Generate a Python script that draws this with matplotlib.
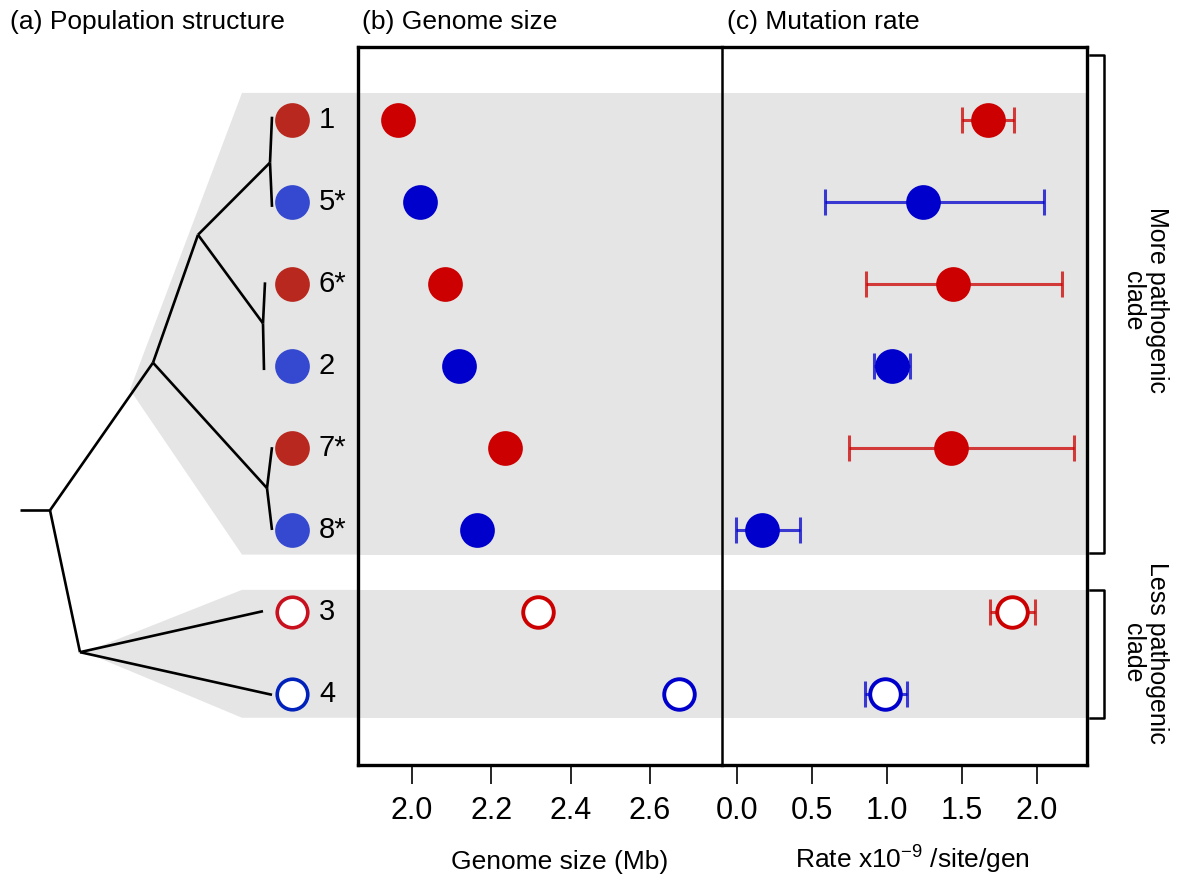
import numpy as np
import matplotlib
matplotlib.use("Agg")
from matplotlib import pyplot as plt
from matplotlib.patches import Polygon
import matplotlib.transforms as mtransforms

plt.rcParams['font.family'] = ['Liberation Sans', 'DejaVu Sans']

# populations, top to bottom
pops = ['1', '5*', '6*', '2', '7*', '8*', '3', '4']
pop_color = ['red', 'blue', 'red', 'blue', 'red', 'blue', 'red', 'blue']
filled = [True, True, True, True, True, True, False, False]

genome_mb = [1.965, 2.020, 2.083, 2.119, 2.235, 2.164, 2.318, 2.673]
rate = [1.673, 1.244, 1.444, 1.037, 1.429, 0.171, 1.833, 0.989]
rate_lo = [1.504, 0.589, 0.865, 0.917, 0.749, -0.004, 1.689, 0.855]
rate_hi = [1.849, 2.049, 2.167, 1.155, 2.249, 0.422, 1.989, 1.137]

genome_ticks = [2.0, 2.2, 2.4, 2.6]
rate_ticks = [0.0, 0.5, 1.0, 1.5, 2.0]

# tree layout: (depth, row)
nodes = {
    'stub': (20, 4.76), 'root': (50, 4.76), 'more': (153, 2.96), 'less': (80, 6.49),
    'a': (198, 1.40), 'n15': (270, 0.52), 'n62': (263, 2.48), 'n78': (267, 4.49),
    't1': (272, -0.04), 't5': (272, 1.06), 't6': (265, 1.98), 't2': (264, 3.05),
    't7': (272, 3.99), 't8': (272, 5.0), 't3': (263, 5.99), 't4': (272, 7.01),
}
edges = [('stub', 'root'), ('root', 'more'), ('root', 'less'), ('more', 'a'),
         ('more', 'n78'), ('a', 'n15'), ('a', 'n62'), ('n15', 't1'), ('n15', 't5'),
         ('n62', 't6'), ('n62', 't2'), ('n78', 't7'), ('n78', 't8'),
         ('less', 't3'), ('less', 't4')]

band_more = (-0.33, 5.30)
band_less = (5.73, 7.29)

tree_col = {'red': '#B9281E', 'blue': '#3448D0'}
open_col = {'red': '#C8101E', 'blue': '#0022BB'}
dot_col = {'red': '#CC0000', 'blue': '#0000CC'}
grey = '#E5E5E5'

W, H = 1179, 880
fig = plt.figure(figsize=(W / 100, H / 100), dpi=100)

def px_rect(x0, y0, x1, y1):
    return [x0 / W, 1 - y1 / H, (x1 - x0) / W, (y1 - y0) / H]

ylims = (7.866, -0.89)

# (a) tree
ax_t = fig.add_axes(px_rect(0, 47, 358, 765))
ax_t.set_xlim(0, 358)
ax_t.set_ylim(*ylims)
ax_t.axis('off')
ax_t.add_patch(Polygon([(242, band_more[0]), (130, 3.29), (242, band_more[1]),
                        (358, band_more[1]), (358, band_more[0])],
                       closed=True, fc=grey, ec='none', zorder=0))
ax_t.add_patch(Polygon([(242, band_less[0]), (85, 6.49), (242, band_less[1]),
                        (358, band_less[1]), (358, band_less[0])],
                       closed=True, fc=grey, ec='none', zorder=0))
for a, b in edges:
    (x0, y0), (x1, y1) = nodes[a], nodes[b]
    ax_t.plot([x0, x1], [y0, y1], color='black', lw=1.9, solid_capstyle='butt', zorder=2)
for i, p in enumerate(pops):
    c = pop_color[i]
    if filled[i]:
        ax_t.plot(292, i, 'o', ms=25, mfc=tree_col[c], mec='none', zorder=3)
    else:
        ax_t.plot(292, i, 'o', ms=22, mfc='white', mec=open_col[c], mew=2.6, zorder=3)
    ax_t.text(319, i, p, fontsize=21, ha='left', va='center', zorder=3)

# (b) genome size
ax_g = fig.add_axes(px_rect(358, 47, 722, 765))
ax_g.set_xlim(1.864, 2.782)
# (c) mutation rate
ax_r = fig.add_axes(px_rect(722, 47, 1087, 765))
ax_r.set_xlim(-0.098, 2.335)

for ax in (ax_g, ax_r):
    ax.set_ylim(*ylims)
    ax.axhspan(*band_more, color=grey, lw=0, zorder=0)
    ax.axhspan(*band_less, color=grey, lw=0, zorder=0)
    ax.set_yticks([])
    ax.tick_params(axis='x', length=14, width=1.2, pad=8, labelsize=22, direction='out')
    for s in ax.spines.values():
        s.set_linewidth(2.4)
ax_g.spines['right'].set_visible(False)
ax_r.spines['left'].set_linewidth(1.8)

ax_g.set_xticks(genome_ticks)
ax_g.set_xticklabels([f'{t:.1f}' for t in genome_ticks])
ax_r.set_xticks(rate_ticks)
ax_r.set_xticklabels([f'{t:.1f}' for t in rate_ticks])

for i in range(len(pops)):
    c = pop_color[i]
    ax_r.errorbar(rate[i], i, xerr=[[rate[i] - rate_lo[i]], [rate_hi[i] - rate[i]]],
                  fmt='none', ecolor=dot_col[c], alpha=0.75, elinewidth=2.2,
                  capsize=9.5, capthick=2.2, zorder=2)
    for ax, x in ((ax_g, genome_mb[i]), (ax_r, rate[i])):
        if filled[i]:
            ax.plot(x, i, 'o', ms=25, mfc=dot_col[c], mec='none', zorder=3)
        else:
            ax.plot(x, i, 'o', ms=22, mfc='white', mec=dot_col[c], mew=2.8, zorder=3)

ax_g.set_xlabel('Genome size (Mb)', fontsize=19)
ax_g.xaxis.set_label_coords(0.555, -0.118)
ax_r.set_xlabel(r'Rate x10$^{\mathregular{-9}}$ /site/gen', fontsize=19)
ax_r.xaxis.set_label_coords(0.523, -0.108)

# clade brackets
tr = mtransforms.blended_transform_factory(ax_r.transAxes, ax_r.transData)
for top, bot in ((-0.79, band_more[1] - 0.02), (band_less[0], band_less[1])):
    ax_r.plot([1.008, 1.047, 1.047, 1.008], [top, top, bot, bot], color='black',
              lw=1.8, transform=tr, clip_on=False)
ax_r.text(1.159, 2.2, 'More pathogenic\nclade', transform=tr, rotation=270,
          ha='center', va='center', fontsize=18, linespacing=1.0)
ax_r.text(1.159, 6.5, 'Less pathogenic\nclade', transform=tr, rotation=270,
          ha='center', va='center', fontsize=18, linespacing=1.0)

fig.text(10 / W, 1 - 22 / H, '(a) Population structure', fontsize=19, va='center')
fig.text(362 / W, 1 - 22 / H, '(b) Genome size', fontsize=19, va='center')
fig.text(727 / W, 1 - 22 / H, '(c) Mutation rate', fontsize=19, va='center')

fig.savefig('out.png', dpi=100)
